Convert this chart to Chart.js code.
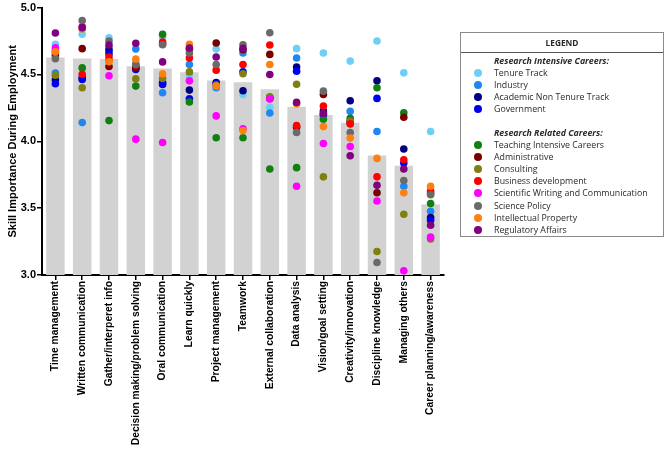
<!DOCTYPE html>
<html>
<head>
<meta charset="utf-8">
<script src="https://cdn.jsdelivr.net/npm/chart.js@4"></script>
<style>
  html, body { margin: 0; padding: 0; background: #fff; }
  #wrap { position: relative; width: 670px; height: 449px; }
  #legendBox {
    position: absolute; left: 460px; top: 32px; width: 204px; height: 205px;
    border: 1px solid #8a8a8a; box-sizing: border-box;
    font-family: "Open Sans", sans-serif; font-size: 8.8px; color: #2a2a2a;
  }
  #legendBox .head {
    height: 19px; line-height: 20px; text-align: center; font-weight: bold; font-size: 8.3px;
    border-bottom: 1px solid #555;
  }
  #legendBox .grp { font-weight: bold; font-style: italic; padding-left: 33px; height: 12.1px; line-height: 12px; }
  #legendBox .row { position: relative; padding-left: 33px; height: 12.1px; line-height: 12px; }
  #legendBox .dot { position: absolute; left: 13px; top: 2px; width: 8px; height: 8px; border-radius: 50%; }
  #legendBox .gap { height: 11.5px; }
</style>
</head>
<body>
<div id="wrap">
  <canvas id="chart" width="670" height="449"></canvas>
  <div id="legendBox"></div>
</div>
<script>
const categories = ['Time management', 'Written communication', 'Gather/interperet info',
  'Decision making/problem solving', 'Oral communication', 'Learn quickly', 'Project management',
  'Teamwork', 'External collaboration', 'Data analysis', 'Vision/goal setting',
  'Creativity/innovation', 'Discipline knowledge', 'Managing others', 'Career planning/awareness'];

const barMeans = [4.626, 4.62, 4.616, 4.561, 4.544, 4.517, 4.455, 4.442, 4.39, 4.259, 4.197, 4.138, 3.894, 3.818, 3.528];

const tenureTrack   = [4.725, 4.80, 4.775, 4.60, 4.78, 4.49, 4.69, 4.35, 4.254, 4.693, 4.66, 4.60, 4.75, 4.512, 4.073];
const industry      = [4.51, 4.14, 4.70, 4.69, 4.363, 4.574, 4.40, 4.66, 4.212, 4.623, 4.19, 4.224, 4.073, 3.664, 3.476];
const academicNonTT = [4.46, 4.477, 4.68, 4.55, 4.44, 4.383, 4.44, 4.378, 4.33, 4.556, 4.227, 4.303, 4.452, 3.942, 3.429];
const government    = [4.43, 4.462, 4.655, 4.537, 4.425, 4.318, 4.43, 4.52, 4.32, 4.524, 4.20, 4.15, 4.321, 3.838, 3.409];
const teaching      = [4.66, 4.549, 4.155, 4.413, 4.80, 4.294, 4.026, 4.026, 3.793, 3.803, 4.165, 4.172, 4.40, 4.214, 3.535];
const administrative= [4.64, 4.693, 4.56, 4.55, 4.73, 4.69, 4.735, 4.685, 4.65, 4.106, 4.35, 4.14, 3.615, 4.18, 3.61];
const consulting    = [4.494, 4.40, 4.605, 4.467, 4.47, 4.519, 4.42, 4.505, 4.333, 4.427, 3.734, 4.15, 3.176, 3.454, 3.27];
const businessDev   = [4.68, 4.502, 4.63, 4.57, 4.742, 4.623, 4.532, 4.574, 4.72, 4.118, 4.264, 4.13, 3.734, 3.862, 3.627];
const sciWriting    = [4.70, 4.859, 4.49, 4.016, 3.991, 4.452, 4.19, 4.093, 4.316, 3.664, 3.984, 3.961, 3.553, 3.032, 3.283];
const sciPolicy     = [4.618, 4.903, 4.75, 4.574, 4.722, 4.66, 4.574, 4.722, 4.812, 4.066, 4.375, 4.066, 3.094, 3.706, 3.60];
const intellectual  = [4.67, 4.84, 4.595, 4.616, 4.505, 4.725, 4.413, 4.08, 4.574, 4.28, 4.11, 4.024, 3.872, 3.615, 3.664];
const regulatory    = [4.81, 4.85, 4.72, 4.733, 4.594, 4.697, 4.63, 4.695, 4.50, 4.291, 4.21, 3.892, 3.671, 3.793, 3.372];

const yTicks = [3.0, 3.5, 4.0, 4.5, 5.0];

const intensiveSeries = [
  { name: 'Tenure Track', data: tenureTrack, color: '#6dcff6' },
  { name: 'Industry', data: industry, color: '#1e88f0' },
  { name: 'Academic Non Tenure Track', data: academicNonTT, color: '#000080' },
  { name: 'Government', data: government, color: '#0000f0' },
];
const relatedSeries = [
  { name: 'Teaching Intensive Careers', data: teaching, color: '#118011' },
  { name: 'Administrative', data: administrative, color: '#7a0000' },
  { name: 'Consulting', data: consulting, color: '#808010' },
  { name: 'Business development', data: businessDev, color: '#ff0000' },
  { name: 'Scientific Writing and Communication', data: sciWriting, color: '#ff00ff' },
  { name: 'Science Policy', data: sciPolicy, color: '#6a6a6a' },
  { name: 'Intellectual Property', data: intellectual, color: '#ff8010' },
  { name: 'Regulatory Affairs', data: regulatory, color: '#800080' },
];

// legend box as html
const legendBox = document.getElementById('legendBox');
const rowHtml = s => `<div class="row"><span class="dot" style="background:${s.color}"></span>${s.name}</div>`;
legendBox.innerHTML = `
  <div class="head">LEGEND</div>
  <div style="height:2px"></div>
  <div class="grp">Research Intensive Careers:</div>
  ${intensiveSeries.map(rowHtml).join('')}
  <div class="gap"></div>
  <div class="grp">Research Related Careers:</div>
  ${relatedSeries.map(rowHtml).join('')}
`;

const font = { family: '"Liberation Sans", Arial, sans-serif', size: 11, weight: 'bold' };
const xFont = { family: '"Liberation Sans", Arial, sans-serif', size: 10.3, weight: 'bold' };

const pointSets = intensiveSeries.concat(relatedSeries).map((s, i) => ({
  type: 'line',
  label: s.name,
  data: s.data,
  showLine: false,
  pointRadius: 3.8,
  pointHoverRadius: 3.8,
  pointBorderWidth: 0,
  pointBackgroundColor: s.color,
  borderColor: s.color,
  order: 20 - i,
}));

new Chart(document.getElementById('chart').getContext('2d'), {
  type: 'bar',
  data: {
    labels: categories,
    datasets: [
      { type: 'bar', label: 'Mean', data: barMeans, backgroundColor: '#d2d2d2',
        barPercentage: 0.69, categoryPercentage: 1, order: 100 },
      ...pointSets,
    ]
  },
  options: {
    responsive: false,
    animation: false,
    layout: { padding: { left: 0, right: 226, top: 7, bottom: 0 } },
    plugins: { legend: { display: false }, tooltip: { enabled: false } },
    scales: {
      x: {
        offset: true,
        border: { color: '#000', width: 2 },
        grid: { display: true, offset: false, drawOnChartArea: false, drawTicks: true, tickLength: 5, color: '#000', lineWidth: 1.5 },
        ticks: { color: '#000', font: xFont, minRotation: 90, maxRotation: 90, autoSkip: false, padding: 1 },
        afterFit: scale => { scale.height = 174; },
      },
      y: {
        min: 3, max: 5,
        border: { color: '#000', width: 2 },
        grid: { display: true, drawOnChartArea: false, drawTicks: true, tickLength: 5, color: '#000', lineWidth: 1.5 },
        afterBuildTicks: scale => { scale.ticks = yTicks.map(v => ({ value: v })); },
        ticks: { color: '#000', font, padding: 1, callback: v => Number(v).toFixed(1) },
        title: { display: true, text: 'Skill Importance During Employment', color: '#000', font, padding: { top: 6, bottom: 0 } },
        afterFit: scale => { scale.width = 42; },
      }
    }
  }
});
</script>
</body>
</html>
